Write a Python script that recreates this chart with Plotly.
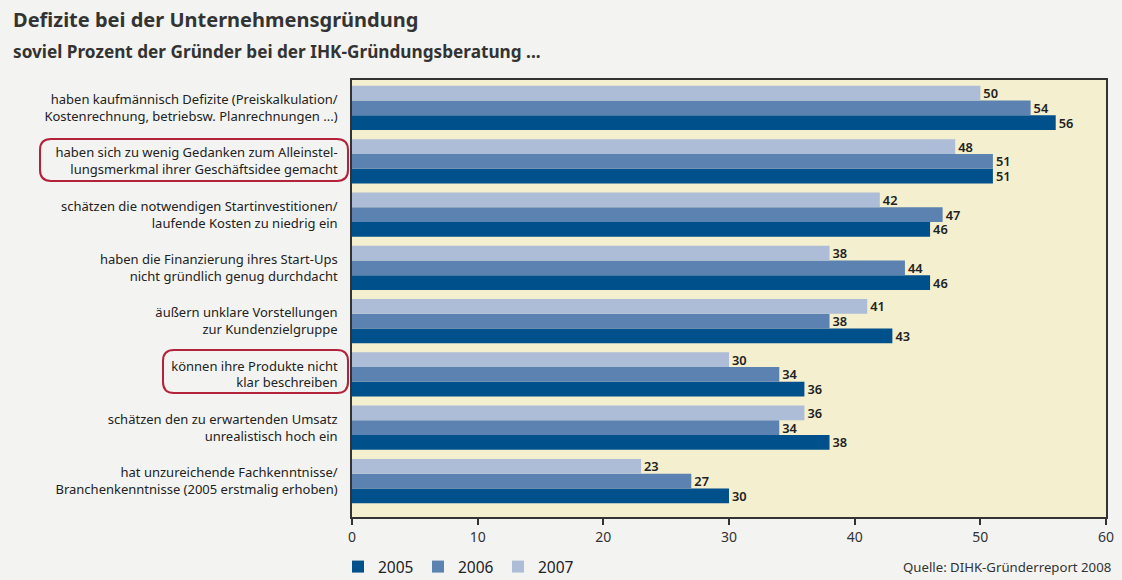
import plotly.graph_objects as go

categories = [
    "haben kaufmännisch Defizite (Preiskalkulation/<br>Kostenrechnung, betriebsw. Planrechnungen ...)",
    "haben sich zu wenig Gedanken zum Alleinstel-<br>lungsmerkmal ihrer Geschäftsidee gemacht",
    "schätzen die notwendigen Startinvestitionen/<br>laufende Kosten zu niedrig ein",
    "haben die Finanzierung ihres Start-Ups<br>nicht gründlich genug durchdacht",
    "äußern unklare Vorstellungen<br>zur Kundenzielgruppe",
    "können ihre Produkte nicht<br>klar beschreiben",
    "schätzen den zu erwartenden Umsatz<br>unrealistisch hoch ein",
    "hat unzureichende Fachkenntnisse/<br>Branchenkenntnisse (2005 erstmalig erhoben)",
]
v2005 = [56, 51, 46, 46, 43, 36, 38, 30]
v2006 = [54, 51, 47, 44, 38, 34, 34, 27]
v2007 = [50, 48, 42, 38, 41, 30, 36, 23]
series = [("2005", v2005, "#00508c"), ("2006", v2006, "#5b82b0"), ("2007", v2007, "#adbdd8")]
xticks = [0, 10, 20, 30, 40, 50, 60]

FONT = "Noto Sans"
W, H = 1122, 580
L, R, T, B = 352, 16, 80, 63

fig = go.Figure()
for name, vals, col in series:
    fig.add_trace(go.Bar(
        y=categories, x=vals, name=name, orientation="h",
        marker=dict(color=col, line=dict(width=0)),
        text=vals, textposition="outside", cliponaxis=False, constraintext="none",
        textfont=dict(family=FONT, size=12.8, color="#222222", weight=600),
        hoverinfo="x+name",
    ))

pw = W - L - R
ph = H - T - B
def px2paper(x, y):
    return (x - L) / pw, (H - B - y) / ph

def rounded_box(x0, y0, x1, y1, r=11):
    def p(x, y):
        a, b = px2paper(x, y)
        return f"{a:.5f},{b:.5f}"
    path = (f"M {p(x0+r, y0)} L {p(x1-r, y0)} Q {p(x1, y0)} {p(x1, y0+r)} "
            f"L {p(x1, y1-r)} Q {p(x1, y1)} {p(x1-r, y1)} L {p(x0+r, y1)} "
            f"Q {p(x0, y1)} {p(x0, y1-r)} L {p(x0, y0+r)} Q {p(x0, y0)} {p(x0+r, y0)} Z")
    return dict(type="path", xref="paper", yref="paper", path=path,
                line=dict(color="#b3213a", width=2), fillcolor="rgba(0,0,0,0)")

fig.update_layout(
    width=W, height=H,
    margin=dict(l=L, r=R, t=T, b=B, autoexpand=False),
    paper_bgcolor="#f3f4f2", plot_bgcolor="#f3efcf",
    barmode="group", bargap=0.17, bargroupgap=0,
    font=dict(family=FONT, color="#222222"),
    title=dict(text="<b>Defizite bei der Unternehmensgründung</b>", x=13/W, xanchor="left",
               y=1 - 20/H, yanchor="middle", font=dict(family=FONT, size=20, color="#333333")),
    showlegend=True,
    legend=dict(orientation="h", x=-14/pw, xanchor="left", y=-(567 - (H - B)) / ph, yanchor="middle",
                font=dict(family=FONT, size=15.5, color="#222222"), traceorder="normal",
                bgcolor="rgba(0,0,0,0)", itemwidth=30, entrywidth=35, entrywidthmode="pixels"),
    xaxis=dict(range=[0, 60], tickvals=xticks, showgrid=False, zeroline=False,
               showline=True, linecolor="#333333", linewidth=1.5, mirror=True,
               ticks="outside", ticklen=6, tickcolor="#333333", tickwidth=1.5,
               tickfont=dict(family=FONT, size=14, color="#333333"), fixedrange=True),
    yaxis=dict(categoryorder="array", categoryarray=categories[::-1],
               range=[-0.675, 7.525], showgrid=False, zeroline=False,
               showline=True, linecolor="#333333", linewidth=1.5, mirror=True,
               ticks="", ticklabelstandoff=10,
               tickfont=dict(family=FONT, size=13, color="#222222"), fixedrange=True),
    shapes=[rounded_box(40, 139, 348, 181), rounded_box(163, 350, 348, 393)],
    annotations=[
        dict(text="<b>soviel Prozent der Gründer bei der IHK-Gründungsberatung ...</b>",
             xref="paper", yref="paper", x=-L/pw + 11/pw, xanchor="left",
             y=1 + (T - 52) / ph, yanchor="middle", showarrow=False,
             font=dict(family=FONT, size=17.2, color="#333333")),
        dict(text="Quelle: DIHK-Gründerreport 2008", xref="paper", yref="paper",
             x=1 + (R - 9) / pw, xanchor="right", y=-(567 - (H - B)) / ph, yanchor="middle",
             showarrow=False, font=dict(family=FONT, size=13.2, color="#333333")),
    ],
)

fig.write_html("out.html", config={"displayModeBar": False},
               post_script="document.body.style.margin='0';document.body.style.padding='0';")
